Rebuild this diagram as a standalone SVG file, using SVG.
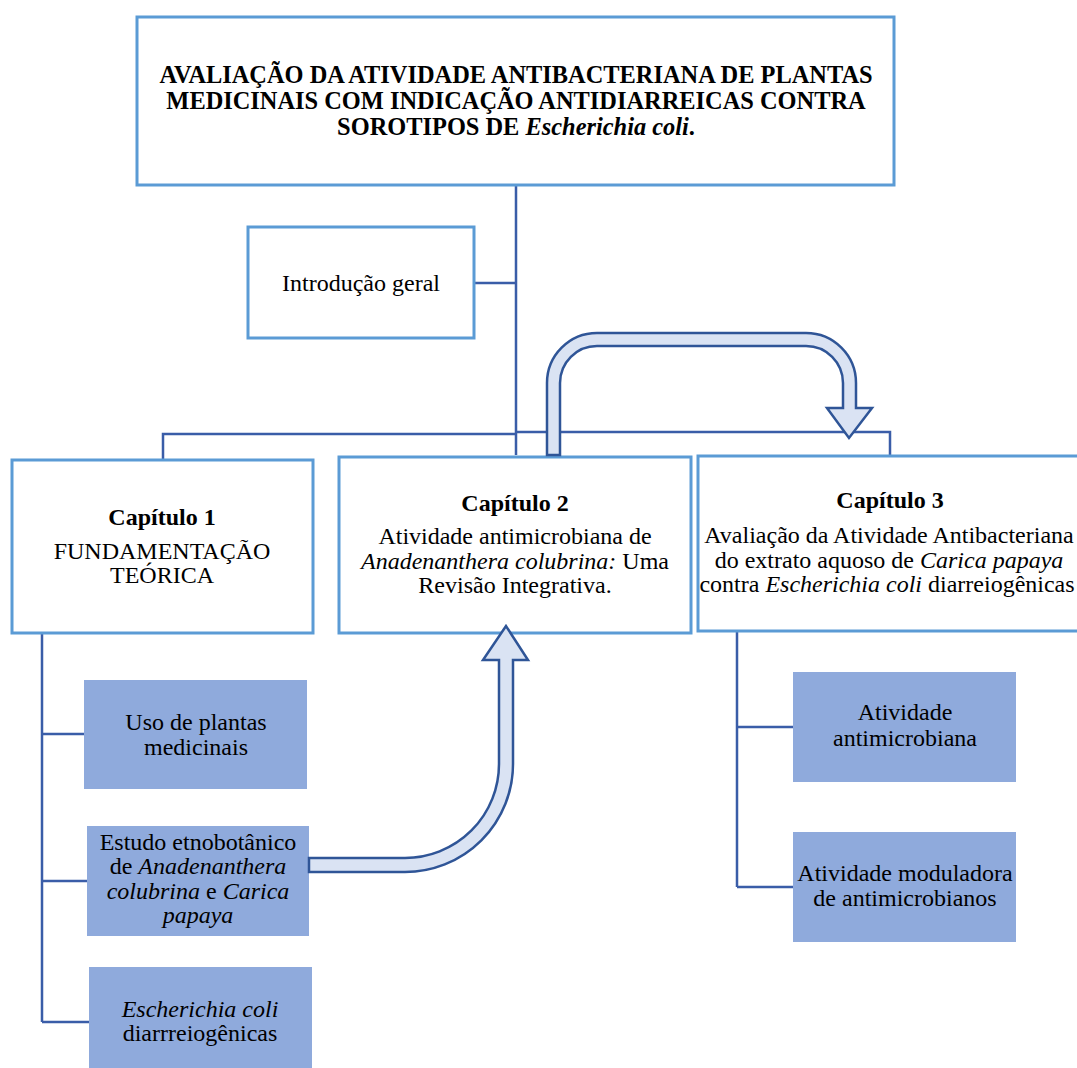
<svg xmlns="http://www.w3.org/2000/svg" width="1077" height="1068" viewBox="0 0 1077 1068">
<style>
text{font-family:"Liberation Serif","Times New Roman",serif;font-size:24px;fill:#000;text-anchor:middle}
.b{font-weight:bold}
.i{font-style:italic}
.t{font-size:24.4px}
.box{fill:#fff;stroke:#5B9BD5;stroke-width:3}
.fill{fill:#8FAADC;stroke:none}
.con{fill:none;stroke:#3A5DA8;stroke-width:2.5}
.barrow{fill:#DAE3F3;stroke:#2F5597;stroke-width:2.5;stroke-linejoin:miter}
</style>
<rect width="1077" height="1068" fill="#fff"/>
<g id="connectors">
<path class="con" d="M516 185 V455"/>
<path class="con" d="M475 283 H516"/>
<path class="con" d="M163 459 V434 H516"/>
<path class="con" d="M516 432 H890 V455"/>
<path class="con" d="M42 633 V1022"/>
<path class="con" d="M42 734 H84 M42 881 H87 M42 1022 H89"/>
<path class="con" d="M737 631 V887 M737 727 H793 M737 887 H793"/>
</g>
<g id="title">
<rect class="box" x="137" y="17" width="757" height="168"/>
<text class="b t" x="516" y="83">AVALIAÇÃO DA ATIVIDADE ANTIBACTERIANA DE PLANTAS</text>
<text class="b t" x="516" y="109">MEDICINAIS COM INDICAÇÃO ANTIDIARREICAS CONTRA</text>
<text class="b t" x="516" y="135">SOROTIPOS DE <tspan class="i">Escherichia coli</tspan>.</text>
</g>
<g id="intro">
<rect class="box" x="248" y="227" width="226" height="111"/>
<text x="361" y="291">Introdução geral</text>
</g>
<g id="cap1">
<rect class="box" x="12" y="460" width="301" height="173"/>
<text class="b" x="162" y="525">Capítulo 1</text>
<text x="162" y="559">FUNDAMENTAÇÃO</text>
<text x="162" y="583">TEÓRICA</text>
</g>
<g id="cap2">
<rect class="box" x="339" y="457" width="352" height="176"/>
<text class="b" x="515" y="511">Capítulo 2</text>
<text x="515" y="544">Atividade antimicrobiana de</text>
<text x="515" y="569"><tspan class="i">Anadenanthera colubrina:</tspan> Uma</text>
<text x="515" y="593">Revisão Integrativa.</text>
</g>
<g id="cap3">
<rect class="box" x="698" y="456" width="390" height="175"/>
<text class="b" x="890" y="508">Capítulo 3</text>
<text x="889" y="543">Avaliação da Atividade Antibacteriana</text>
<text x="889" y="568">do extrato aquoso de <tspan class="i">Carica papaya</tspan></text>
<text x="887" y="592">contra <tspan class="i">Escherichia coli</tspan> diarreiogênicas</text>
</g>
<g id="uso">
<rect class="fill" x="84" y="680" width="223" height="109"/>
<text x="196" y="730">Uso de plantas</text>
<text x="196" y="755">medicinais</text>
</g>
<g id="estudo">
<rect class="fill" x="87" y="826" width="222" height="110"/>
<text x="198" y="850">Estudo etnobotânico</text>
<text x="198" y="874">de <tspan class="i">Anadenanthera</tspan></text>
<text x="198" y="899"><tspan class="i">colubrina</tspan> e <tspan class="i">Carica</tspan></text>
<text x="198" y="923" class="i">papaya</text>
</g>
<g id="ecoli">
<rect class="fill" x="89" y="967" width="223" height="101"/>
<text x="200" y="1017" class="i">Escherichia coli</text>
<text x="200" y="1041">diarrreiogênicas</text>
</g>
<g id="ativ-antimicrobiana">
<rect class="fill" x="793" y="672" width="223" height="110"/>
<text x="905" y="720">Atividade</text>
<text x="905" y="746">antimicrobiana</text>
</g>
<g id="ativ-moduladora">
<rect class="fill" x="793" y="832" width="223" height="110"/>
<text x="905" y="881">Atividade moduladora</text>
<text x="905" y="906">de antimicrobianos</text>
</g>
<g id="block-arrows">
<path class="barrow" d="M309 858 L405 858 A94 94 0 0 0 499 764 L499 660 L483 660 L506 626 L528 660 L513 660 L513 764 A108 108 0 0 1 405 872 L309 872 Z"/>
<path class="barrow" d="M547 455 L547 383 A50 50 0 0 1 597 333 L806 333 A50 50 0 0 1 856 383 L856 408 L872 408 L849 438 L827 408 L843 408 L843 383 A37 37 0 0 0 806 346 L597 346 A37 37 0 0 0 560 383 L560 455 Z"/>
</g>
</svg>
